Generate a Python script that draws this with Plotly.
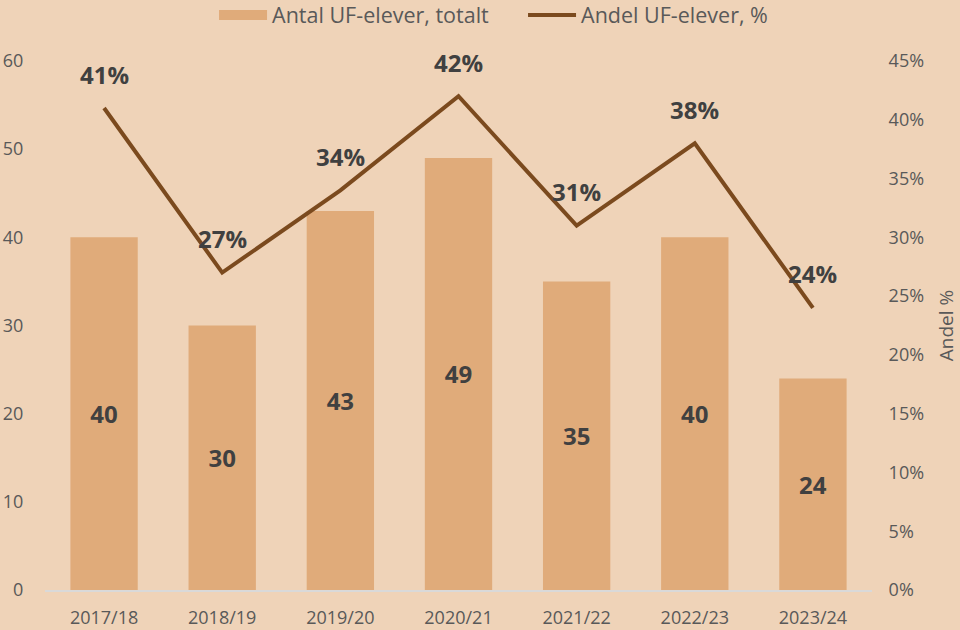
import plotly.graph_objects as go

years = ["2017/18", "2018/19", "2019/20", "2020/21", "2021/22", "2022/23", "2023/24"]
antal = [40, 30, 43, 49, 35, 40, 24]
andel = [41, 27, 34, 42, 31, 38, 24]

bg = "#EFD3B8"
bar_col = "#E0AB7A"
line_col = "#7B4A1E"
tick_col = "#595959"
lab_col = "#404040"
font_fam = "Open Sans"
clear = "rgba(0,0,0,0)"

fig = go.Figure()
fig.add_trace(go.Bar(
    x=years, y=antal, name="Antal UF-elever, totalt", showlegend=False,
    marker=dict(color=bar_col, line=dict(width=0)),
    text=[str(v) for v in antal], textposition="inside", insidetextanchor="middle",
    textfont=dict(family=font_fam, size=24, color=lab_col, weight="bold"),
    yaxis="y",
))
# legend swatch for the bars (wide rectangle like the reference)
fig.add_trace(go.Scatter(
    x=[None], y=[None], name="Antal UF-elever, totalt", mode="lines",
    line=dict(color=bar_col, width=14), legendrank=1,
))
fig.add_trace(go.Scatter(
    x=years, y=andel, name="Andel UF-elever, %", mode="lines",
    line=dict(color=line_col, width=4), legendrank=2,
    yaxis="y2",
))
for x, v in zip(years, andel):
    fig.add_annotation(x=x, y=v, yref="y2", text=f"<b>{v}%</b>", showarrow=False,
                       yshift=34, font=dict(family=font_fam, size=24, color=lab_col))

fig.update_layout(
    width=960, height=630,
    paper_bgcolor=bg, plot_bgcolor=bg,
    margin=dict(l=45, r=88, t=61, b=40, autoexpand=False),
    bargap=0.43,
    font=dict(family=font_fam, size=18, color=tick_col),
    showlegend=True,
    legend=dict(orientation="h", x=0.2044, xanchor="left", y=1.087, yanchor="middle",
                font=dict(size=21.5, color=tick_col), entrywidth=246, entrywidthmode="pixels",
                bgcolor=clear, itemwidth=48, tracegroupgap=0),
    xaxis=dict(showgrid=False, showline=True, linecolor="#D9D9D9", linewidth=2,
               ticks="outside", ticklen=10, tickcolor=clear, automargin=False,
               tickfont=dict(size=18, color=tick_col)),
    yaxis=dict(range=[0, 60], dtick=10, showgrid=False, zeroline=False, showline=False,
               ticks="outside", ticklen=17, tickcolor=clear, automargin=False,
               tickfont=dict(size=18, color=tick_col)),
    yaxis2=dict(range=[0, 45], dtick=5, overlaying="y", side="right", showgrid=False,
                zeroline=False, ticksuffix="%", ticks="outside", ticklen=12,
                tickcolor=clear, automargin=False,
                title=dict(text="Andel %", font=dict(size=19, color=tick_col), standoff=16),
                tickfont=dict(size=18, color=tick_col)),
)
fig.write_html("out.html", config={"displayModeBar": False},
               post_script="document.body.style.margin='0';document.body.style.overflow='hidden';")
